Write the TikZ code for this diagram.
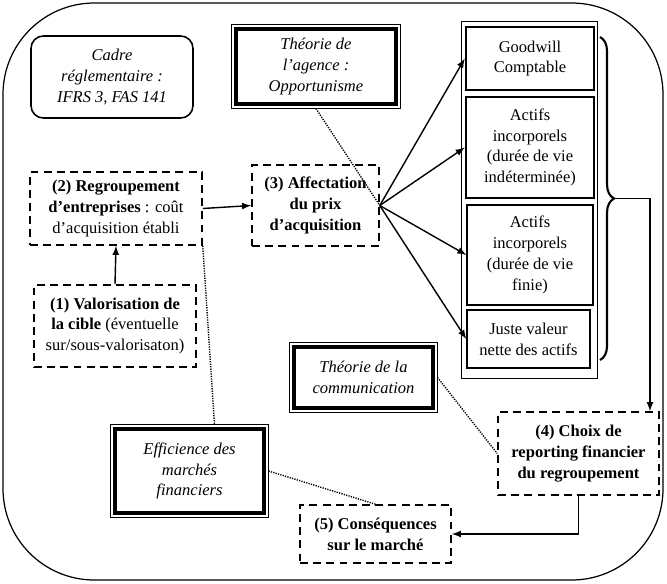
\documentclass[tikz,border=0pt]{standalone}
\usepackage{fontspec}
\setmainfont{Liberation Serif}
\usetikzlibrary{decorations.pathreplacing}

\begin{document}
\begin{tikzpicture}[x=0.02cm,y=-0.02cm,font=\fontsize{9.4}{11.8}\selectfont]
\tikzset{stage/.style = {draw,dash pattern=on 4.5pt off 3pt,line width=0.9pt,align=center,inner sep=2pt}}
\tikzset{theory/.style = {draw,line width=2pt,align=center,font=\fontsize{9.4}{11.8}\selectfont\itshape,inner sep=2pt}}
\tikzset{item/.style = {draw,align=center,inner sep=2pt}}
\tikzset{edge/.style = {->,> = latex,line width=0.8pt}}
\tikzset{link/.style = {dash pattern=on 0.7pt off 0.7pt,line width=0.8pt}}
\useasboundingbox (0,0) rectangle (667,583);
%\draw[red] (0,0) grid[step=50] (667,583);
\draw[rounded corners=52pt,line width=0.7pt] (3,3) rectangle (663,580);
\node[draw,rounded corners=7pt,line width=0.9pt,align=center,font=\fontsize{9.4}{11.8}\selectfont\itshape,
  minimum width=3.24cm,minimum height=1.64cm] (cadre) at (112,77) {Cadre\\réglementaire :\\IFRS 3, FAS 141};
\node[theory,minimum width=3.2cm,minimum height=1.5cm] (agence) at (316,66.5) {Théorie de\\l’agence :\\Opportunisme};
\node[theory,minimum width=2.78cm,minimum height=1.22cm] (comm) at (363.5,377.5) {Théorie de la\\communication};
\node[theory,minimum width=2.98cm,minimum height=1.68cm] (effic) at (189.5,471) {Efficience des\\marchés\\financiers};
\foreach \n in {agence,comm,effic}
  \draw[line width=0.5pt] ([shift={(-1.6pt,1.6pt)}]\n.north west) rectangle ([shift={(1.6pt,-1.6pt)}]\n.south east);
\node[stage,minimum width=3.44cm,minimum height=1.46cm] (regroup) at (116,208.5)
  {\textbf{(2) Regroupement}\\\textbf{d’entreprises} : coût\\d’acquisition établi};
\node[stage,font=\fontsize{9.4}{11.8}\selectfont\bfseries,minimum width=2.54cm,minimum height=1.62cm] (affect) at (315.5,205.5)
  {(3) Affectation\\du prix\\d’acquisition};
\node[stage,minimum width=3.24cm,minimum height=1.64cm] (valor) at (115,326)
  {\textbf{(1) Valorisation de}\\\textbf{la cible} (éventuelle\\sur/sous-valorisaton)};
\node[stage,font=\fontsize{9.4}{11.8}\selectfont\bfseries,minimum width=3.22cm,minimum height=1.66cm] (choix) at (578.5,453.5)
  {(4) Choix de\\reporting financier\\du regroupement};
\node[stage,font=\fontsize{9.4}{11.8}\selectfont\bfseries,minimum width=3.02cm,minimum height=1.16cm] (conseq) at (375.5,534)
  {(5) Conséquences\\sur le marché};
% bloc des actifs
\draw[line width=0.5pt] (461,21) rectangle (597,378);
\node[item,line width=1.4pt,minimum width=2.56cm,minimum height=1.26cm] (goodwill) at (530,58.5) {Goodwill\\Comptable};
\node[item,line width=1.4pt,minimum width=2.56cm,minimum height=2.02cm] (indet) at (530,147.5)
  {Actifs\\incorporels\\(durée de vie\\indéterminée)};
\node[item,line width=0.6pt,minimum width=2.52cm,minimum height=2cm] (finie) at (530,255)
  {Actifs\\incorporels\\(durée de vie\\finie)};
\node[item,line width=0.8pt,minimum width=2.46cm,minimum height=1.16cm] (juste) at (528.5,339) {Juste valeur\\nette des actifs};
\draw[decorate,decoration={brace,amplitude=8pt},line width=1.2pt] (600,37) -- (600,360);
\coordinate (tip) at (615,198.5);
% fleches
\draw[edge] (valor.north) -- (regroup.south);
\draw[edge] (regroup.east) -- (affect.west);
\path[edge]
(affect.east) edge (goodwill.west)
(affect.east) edge (indet.west)
(affect.east) edge (finie.west)
(affect.east) edge (juste.west);
\draw[edge] (tip) -| ([xshift=1.43cm]choix.north);
\draw[edge] (choix.south) |- (conseq.east);
% liens theoriques
\draw[link] ([yshift=-1.6pt]agence.south) -- (affect.east);
\draw[link] (regroup.south east) -- ([xshift=0.5cm,yshift=1.6pt]effic.north);
\draw[link] ([xshift=1.6pt]effic.east) -- (conseq.north);
\draw[link] ([xshift=1.6pt]comm.east) -- (choix.west);
\end{tikzpicture}
\end{document}
